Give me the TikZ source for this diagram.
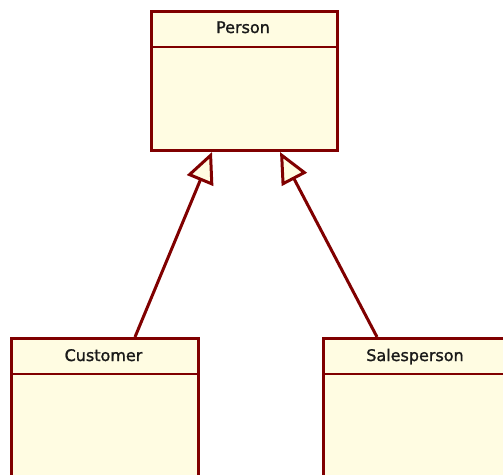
\documentclass[tikz,border=0pt]{standalone}
\usepackage{fontspec}
\setmainfont{DejaVu Sans}
\newfontfamily\umlfont[FakeBold=1.3]{DejaVu Sans}
\usetikzlibrary{arrows.meta,calc}
\definecolor{umlborder}{HTML}{800000}
\definecolor{umlfill}{HTML}{FFFCE2}
\begin{document}
\begin{tikzpicture}[x=1pt,y=-1pt,
  classbox/.style={draw=umlborder,fill=umlfill,line width=3pt,minimum width=#1,inner sep=0pt,anchor=north west},
  classname/.style={font=\umlfont\fontsize{16}{18}\selectfont,text=black!90,anchor=base,inner sep=0pt},
  sepline/.style={draw=umlborder,line width=2pt},
  gen/.style={draw=umlborder,line width=3pt,-{Triangle[length=31pt,width=28pt,fill=umlfill,line width=3pt]}}]
\useasboundingbox (0,0) rectangle (503,474);
\clip (0,0) rectangle (503,474);
% Person
\node[classbox=186pt,minimum height=139pt] (person) at (150,10) {};
\node[classname] (personname) at (243,33) {Person};
\draw[sepline] (150,47) -- (336,47);
% Customer
\node[classbox=187pt,minimum height=160pt] (customer) at (10,337) {};
\node[classname] (customername) at (103.5,361) {Customer};
\draw[sepline] (10,374) -- (197,374);
% Salesperson
\node[classbox=200pt,minimum height=160pt] (sales) at (322,337) {};
\node[classname] (salesname) at (415,361) {Salesperson};
\draw[sepline] (322,374) -- (520,374);
% connectors
\coordinate (cTop) at ($(customer.north west)+(125,0)$);
\coordinate (sTop) at ($(sales.north west)+(55,0)$);
\coordinate (pL) at ($(person.south west)+(62,0)$);
\coordinate (pR) at ($(person.south west)+(130,0)$);
\draw[gen] (cTop) -- (pL);
\draw[gen] (sTop) -- (pR);
\end{tikzpicture}
\end{document}
